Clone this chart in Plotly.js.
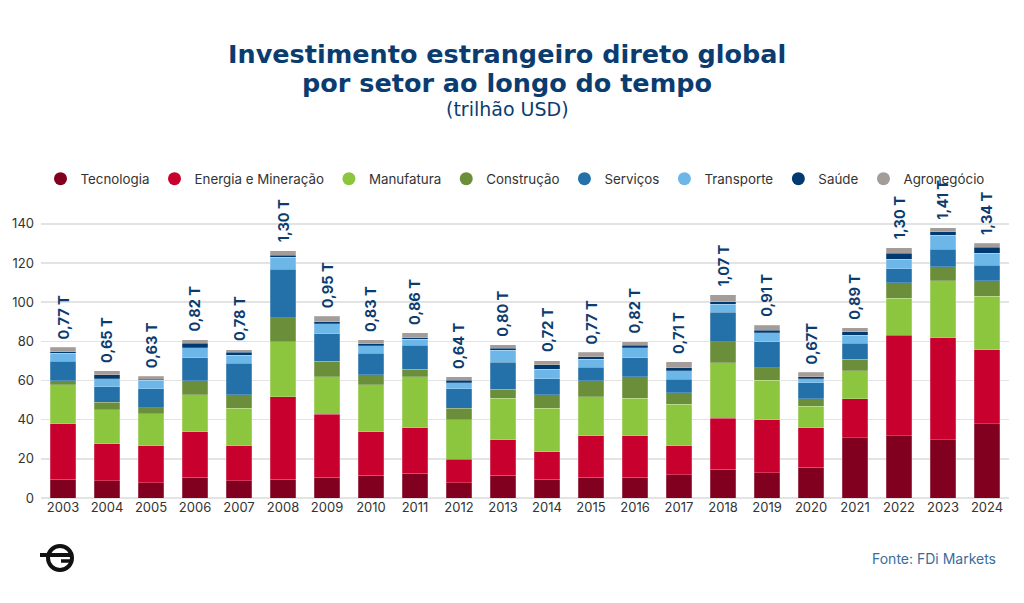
<!DOCTYPE html>
<html>
<head>
<meta charset="utf-8">
<script src="https://cdn.plot.ly/plotly-3.0.1.min.js"></script>
<style>html,body{margin:0;padding:0;background:#fff;}#chart{width:1024px;height:603px;}</style>
</head>
<body>
<div id="chart"></div>
<script>
const years = ['2003','2004','2005','2006','2007','2008','2009','2010','2011','2012','2013','2014','2015','2016','2017','2018','2019','2020','2021','2022','2023','2024'];
const tecnologia   = [9.7, 8.7, 7.7, 10.7, 8.7, 9.7, 10.7, 11.6, 12.6, 7.7, 11.6, 9.7, 10.7, 10.7, 11.8, 14.8, 12.8, 15.8, 30.8, 31.9, 29.8, 37.8];
const energia      = [28.1, 19.1, 19.0, 23.0, 18.0, 42.1, 32.1, 22.1, 23.2, 12.1, 18.2, 14.0, 21.0, 21.0, 14.9, 25.9, 27.1, 20.1, 20.0, 51.1, 52.1, 38.0];
const manufatura   = [20.1, 17.2, 16.2, 19.1, 19.1, 28.1, 19.0, 24.2, 26.0, 20.1, 21.1, 22.1, 20.1, 19.2, 21.2, 28.3, 20.1, 10.9, 14.1, 19.0, 29.0, 27.3];
const construcao   = [1.9, 3.9, 3.1, 7.0, 7.0, 12.1, 8.0, 5.0, 4.0, 5.9, 4.5, 7.0, 8.0, 10.9, 5.9, 10.9, 6.6, 4.0, 6.0, 7.9, 7.2, 7.8];
const servicos     = [9.9, 7.8, 9.7, 11.9, 15.9, 24.9, 14.0, 10.9, 12.1, 9.9, 13.8, 8.0, 7.0, 9.9, 6.8, 15.0, 13.3, 8.1, 8.0, 7.1, 8.8, 8.0];
const transporte   = [4.1, 4.3, 4.3, 5.1, 4.2, 5.9, 5.1, 3.9, 3.2, 3.2, 6.3, 5.0, 4.1, 5.1, 4.3, 4.1, 4.4, 1.9, 4.2, 5.0, 7.2, 6.1];
const saude        = [0.9, 1.9, 0.6, 2.1, 1.4, 1.2, 1.0, 1.0, 0.8, 1.1, 1.0, 2.2, 1.3, 1.1, 1.7, 1.2, 1.4, 1.2, 1.7, 2.9, 1.8, 2.9];
const agronegocio  = [2.2, 2.0, 1.6, 2.0, 1.5, 2.2, 2.9, 2.0, 2.4, 1.8, 1.7, 2.2, 2.1, 2.0, 2.9, 3.7, 2.5, 2.1, 2.1, 2.9, 2.1, 2.1];
const totalLabels  = ['0,77 T','0,65 T','0,63 T','0,82 T','0,78 T','1,30 T','0,95 T','0,83 T','0,86 T','0,64 T','0,80 T','0,72 T','0,77 T','0,82 T','0,71 T','1,07 T','0,91 T','0,67T','0,89 T','1,30 T','1,41 T','1,34 T'];
const seriesNames  = ['Tecnologia','Energia e Mineração','Manufatura','Construção','Serviços','Transporte','Saúde','Agronegócio'];

const seriesData = [tecnologia, energia, manufatura, construcao, servicos, transporte, saude, agronegocio];
const colors = ['#82001F','#C8002D','#8CC63F','#6B8E3A','#2470A8','#6DB6E8','#003A70','#A39C98'];
const FONT = 'Inter, "Open Sans", sans-serif';
const WIDEFONT = '"DejaVu Sans", Inter, sans-serif';
const NAVY = '#0B3C70';

const traces = [];
seriesData.forEach((vals, i) => {
  traces.push({
    type: 'bar', x: years, y: vals, name: seriesNames[i],
    marker: {color: colors[i], line: {width: 0.6, color: 'rgba(255,255,255,0.35)'}},
    showlegend: false, hoverinfo: 'x+y+name'
  });
});
seriesData.forEach((vals, i) => {
  traces.push({
    type: 'scatter', mode: 'markers', x: [null], y: [null], name: seriesNames[i],
    marker: {color: colors[i], size: 13, symbol: 'circle'}, showlegend: true
  });
});

const totals = years.map((_, j) => seriesData.reduce((s, arr) => s + arr[j], 0));

// plot area mapping for pixel-positioned decorations
const L = 41, R = 15, T = 214, B = 105, W = 1024, H = 603;
const pw = W - L - R, ph = H - T - B;
const px = v => (v - L) / pw;
const py = v => (H - B - v) / ph;

const annotations = years.map((yr, j) => ({
  x: j, y: totals[j], xref: 'x', yref: 'y', text: '<b>' + totalLabels[j] + '</b>',
  textangle: -90, showarrow: false, xanchor: 'center', yanchor: 'bottom', yshift: 6,
  font: {family: FONT, size: 14.5, color: NAVY}
}));
annotations.push({
  xref: 'paper', yref: 'paper', x: px(507), y: py(54), xanchor: 'center', yanchor: 'middle',
  text: '<b>Investimento estrangeiro direto global</b>', showarrow: false,
  font: {family: WIDEFONT, size: 25.5, color: NAVY}
});
annotations.push({
  xref: 'paper', yref: 'paper', x: px(507), y: py(83), xanchor: 'center', yanchor: 'middle',
  text: '<b>por setor ao longo do tempo</b>', showarrow: false,
  font: {family: WIDEFONT, size: 25.5, color: NAVY}
});
annotations.push({
  xref: 'paper', yref: 'paper', x: px(507), y: py(109), xanchor: 'center', yanchor: 'middle',
  text: '(trilhão USD)', showarrow: false, font: {family: WIDEFONT, size: 19, color: NAVY}
});
annotations.push({
  xref: 'paper', yref: 'paper', x: px(998), y: py(558), xanchor: 'right', yanchor: 'middle',
  text: 'Fonte: FDi Markets', showarrow: false, font: {family: FONT, size: 14, color: '#3A6D9C'}
});

const shapes = [
  {type: 'circle', xref: 'paper', yref: 'paper', x0: px(48), x1: px(72), y0: py(570), y1: py(546),
   line: {color: '#111', width: 4}},
  {type: 'line', xref: 'paper', yref: 'paper', x0: px(40), x1: px(72), y0: py(555), y1: py(555),
   line: {color: '#111', width: 4}},
  {type: 'line', xref: 'paper', yref: 'paper', x0: px(61), x1: px(73), y0: py(561), y1: py(561),
   line: {color: '#111', width: 3.5}}
];

const layout = {
  width: W, height: H,
  margin: {l: L, r: R, t: T, b: B, pad: 0},
  paper_bgcolor: '#fff', plot_bgcolor: '#fff',
  barmode: 'stack', bargap: 0.41,
  font: {family: FONT, color: '#333'},
  legend: {
    orientation: 'h', traceorder: 'normal', x: px(40.5), xanchor: 'left', y: py(179), yanchor: 'middle',
    font: {family: FONT, size: 13.35, color: '#333'}, itemwidth: 30, tracegroupgap: 0
  },
  xaxis: {
    type: 'category', range: [-0.5, 21.5], showgrid: false, showline: false, ticks: '',
    tickfont: {family: FONT, size: 13, color: '#333'}, fixedrange: true
  },
  yaxis: {
    range: [0, 145], tickvals: [0,20,40,60,80,100,120,140], showgrid: true,
    gridcolor: '#E3E3E3', gridwidth: 1.5, zeroline: true, zerolinecolor: '#E3E3E3', zerolinewidth: 1.5,
    showline: false, ticks: '', ticklabelstandoff: 6,
    tickfont: {family: FONT, size: 13, color: '#333'}, fixedrange: true
  },
  annotations: annotations,
  shapes: shapes
};

Plotly.newPlot('chart', traces, layout, {displayModeBar: false, staticPlot: true});
</script>
</body>
</html>
